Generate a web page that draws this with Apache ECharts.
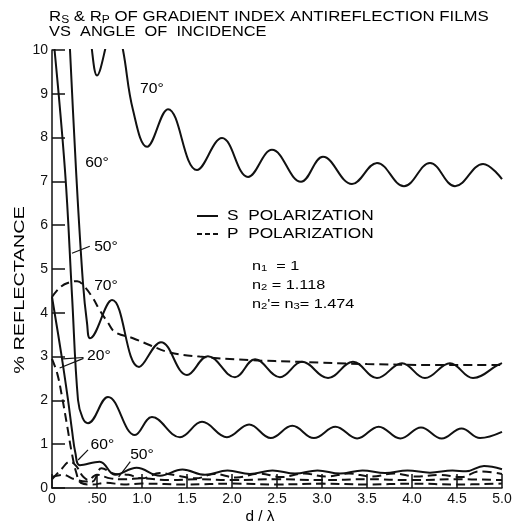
<!DOCTYPE html>
<html>
<head>
<meta charset="utf-8">
<script src="https://cdn.jsdelivr.net/npm/echarts@6/dist/echarts.min.js"></script>
<style>
  html, body { margin: 0; padding: 0; background: #fff; }
  #chart { width: 516px; height: 526px; }
</style>
</head>
<body>
<div id="chart"></div>
<script>
// Tick labels
const xTickLabels = ['0', '.50', '1.0', '1.5', '2.0', '2.5', '3.0', '3.5', '4.0', '4.5', '5.0'];
const yTickLabels = ['0', '1', '2', '3', '4', '5', '6', '7', '8', '9', '10'];

// Reflectance (%) vs film thickness d/λ, S polarization
const s20 = [[0, 4.36], [0.1, 3.1], [0.178, 2.01], [0.222, 1.32], [0.26, 0.8], [0.31, 0.52], [0.53, 0.6],
  [0.7, 0.3], [0.94, 0.46], [1.2, 0.28], [1.45, 0.42], [1.7, 0.3], [1.95, 0.4], [2.2, 0.32], [2.45, 0.4],
  [2.7, 0.33], [2.95, 0.4], [3.2, 0.33], [3.45, 0.4], [3.7, 0.34], [3.95, 0.4], [4.2, 0.35], [4.45, 0.4],
  [4.6, 0.38], [4.8, 0.5], [5.0, 0.43]];
const s50 = [[0, 10.6], [0.144, 7.26], [0.222, 4.41], [0.289, 2.01], [0.34, 1.6], [0.4, 1.48], [0.622, 2.08],
  [0.922, 1.21], [1.111, 1.62], [1.422, 1.16], [1.667, 1.51], [1.944, 1.16], [2.19, 1.45], [2.43, 1.14],
  [2.67, 1.42], [2.91, 1.14], [3.15, 1.40], [3.39, 1.13], [3.63, 1.40], [3.87, 1.13], [4.1, 1.38],
  [4.33, 1.13], [4.55, 1.36], [4.756, 1.14], [5.0, 1.28]];
const s60 = [[0.1, 14.0], [0.2, 10.0], [0.267, 7.26], [0.344, 4.68], [0.39, 3.75], [0.422, 3.42], [0.667, 4.29],
  [0.967, 2.76], [1.211, 3.33], [1.5, 2.58], [1.733, 3.01], [2.033, 2.53], [2.256, 2.94], [2.533, 2.53],
  [2.778, 2.88], [3.067, 2.51], [3.344, 2.88], [3.611, 2.51], [3.889, 2.85], [4.144, 2.51], [4.422, 2.85],
  [4.678, 2.51], [4.956, 2.81], [5.0, 2.85]];
const s70 = [[0.35, 12.0], [0.444, 10.0], [0.5, 9.42], [0.589, 10.0], [0.68, 11.0], [0.789, 10.0], [0.9, 8.63],
  [1.056, 7.79], [1.289, 8.65], [1.611, 7.26], [1.889, 7.99], [2.178, 7.1], [2.444, 7.72], [2.767, 6.99],
  [3.011, 7.56], [3.333, 6.94], [3.611, 7.42], [3.911, 6.89], [4.2, 7.42], [4.478, 6.89], [4.789, 7.40],
  [5.0, 7.05]];

// Reflectance (%) vs film thickness d/λ, P polarization
const p20 = [[0, 2.95], [0.06, 2.6], [0.11, 2.1], [0.17, 1.4], [0.22, 0.8], [0.27, 0.35], [0.32, 0.12],
  [0.45, 0.08], [0.6, 0.12], [0.8, 0.08], [1.0, 0.1], [1.5, 0.08], [2.0, 0.1], [2.5, 0.08], [3.0, 0.1],
  [3.5, 0.08], [4.0, 0.1], [4.5, 0.08], [5.0, 0.1]];
const p50 = [[0, 0.25], [0.12, 0.3], [0.25, 0.2], [0.38, 0.15], [0.5, 0.3], [0.65, 0.22], [0.8, 0.2],
  [1.0, 0.22], [1.3, 0.18], [1.6, 0.2], [2.0, 0.18], [2.5, 0.2], [3.0, 0.18], [3.5, 0.2], [4.0, 0.18],
  [4.5, 0.2], [5.0, 0.18]];
const p60 = [[0, 0.2], [0.1, 0.42], [0.2, 0.6], [0.27, 0.5], [0.35, 0.25], [0.45, 0.15], [0.55, 0.45],
  [0.7, 0.32], [0.85, 0.3], [1.0, 0.22], [1.2, 0.34], [1.4, 0.28], [1.6, 0.22], [1.8, 0.32], [2.05, 0.24],
  [2.3, 0.33], [2.55, 0.25], [2.8, 0.33], [3.05, 0.26], [3.3, 0.33], [3.55, 0.26], [3.8, 0.33],
  [4.05, 0.26], [4.3, 0.3], [4.55, 0.25], [4.75, 0.38], [5.0, 0.32]];
const p70 = [[0, 4.36], [0.1, 4.6], [0.2, 4.7], [0.28, 4.72], [0.36, 4.6], [0.45, 4.35], [0.53, 4.06],
  [0.62, 3.78], [0.7, 3.56], [0.9, 3.42], [1.09, 3.26], [1.3, 3.1], [1.64, 3.0], [2.2, 2.92], [2.76, 2.88],
  [3.5, 2.83], [4.23, 2.81], [5.0, 2.81]];

// Angle-of-incidence callouts (data coordinates) and their leader lines
const angleLabels = [
  { text: '70°', at: [1.11, 9.11] },
  { text: '60°', at: [0.5, 7.42] },
  { text: '50°', at: [0.6, 5.5] },
  { text: '70°', at: [0.6, 4.6] },
  { text: '20°', at: [0.52, 3.0] },
  { text: '60°', at: [0.56, 0.98] },
  { text: '50°', at: [1.0, 0.75] }
];
const leaders = [
  [[0.222, 5.36], [0.42, 5.52]],
  [[0.35, 2.98], [0.12, 2.95]],
  [[0.35, 2.96], [0.085, 2.74]],
  [[0.4, 0.87], [0.29, 0.64]],
  [[0.87, 0.6], [0.74, 0.25]]
];

const FONT = 'Liberation Sans';
const INK = '#111';

const chart = echarts.init(document.getElementById('chart'), null, { renderer: 'canvas' });

function curve(name, data, dashed) {
  return {
    name: name,
    type: 'line',
    data: data,
    smooth: 0.4,
    showSymbol: false,
    clip: true,
    silent: true,
    lineStyle: { color: INK, width: 2, type: dashed ? [9, 5] : 'solid' }
  };
}

chart.setOption({
  animation: false,
  backgroundColor: '#fff',
  grid: { left: 52, right: 14, top: 50, bottom: 38, containLabel: false },
  xAxis: {
    type: 'value', min: 0, max: 5, interval: 0.5,
    axisLine: { show: true, lineStyle: { color: INK, width: 1.5 } },
    axisTick: { show: true, inside: true, length: 14, lineStyle: { color: INK, width: 1.5 } },
    axisLabel: {
      margin: 4, fontFamily: FONT, fontSize: 14, color: INK,
      formatter: v => xTickLabels[Math.round(v / 0.5)]
    },
    splitLine: { show: false }
  },
  yAxis: {
    type: 'value', min: 0, max: 10, interval: 1,
    axisLine: { show: true, lineStyle: { color: INK, width: 1.5 } },
    axisTick: { show: true, inside: true, length: 13, lineStyle: { color: INK, width: 1.5 } },
    axisLabel: {
      margin: 4, fontFamily: FONT, fontSize: 14, color: INK,
      formatter: v => yTickLabels[Math.round(v)]
    },
    splitLine: { show: false }
  },
  series: [
    curve('S 20°', s20, false), curve('S 50°', s50, false),
    curve('S 60°', s60, false), curve('S 70°', s70, false),
    curve('P 20°', p20, true), curve('P 50°', p50, true),
    curve('P 60°', p60, true), curve('P 70°', p70, true)
  ]
});

// Title, axis names, legend key, refractive indices and angle callouts
const base = { fontFamily: FONT, fontSize: 14, color: INK };
const sub = { fontFamily: FONT, fontSize: 10, color: INK, padding: [6, 0, 0, 0] };
const small = { fontFamily: FONT, fontSize: 13, color: INK };
const sub2 = { fontFamily: FONT, fontSize: 9, color: INK, padding: [6, 0, 0, 0] };

const toPx = p => chart.convertToPixel({ gridIndex: 0 }, p);

function label(x, y, style, sx, extra) {
  return Object.assign({ type: 'text', x: x, y: y, scaleX: sx || 1,
    style: Object.assign({ align: 'left', verticalAlign: 'middle' }, style) }, extra || {});
}

const graphics = [
  label(49, 17, { text: '{a|R}{s|S}{a| & R}{s|P}{a| OF GRADIENT INDEX ANTIREFLECTION FILMS}',
    rich: { a: base, s: sub } }, 1.2),
  label(49, 32, Object.assign({ text: 'VS  ANGLE  OF  INCIDENCE' }, base), 1.17),
  label(20, 290, Object.assign({ text: '% REFLECTANCE', align: 'center' }, base), 1.42,
    { rotation: Math.PI / 2 }),
  label(260, 517, Object.assign({ text: 'd / λ', align: 'center' }, base), 1.1),
  { type: 'line', shape: { x1: 197, y1: 216, x2: 218, y2: 216 }, style: { stroke: INK, lineWidth: 2 } },
  { type: 'line', shape: { x1: 197, y1: 234, x2: 219, y2: 234 }, style: { stroke: INK, lineWidth: 2, lineDash: [5, 3] } },
  label(227, 216, Object.assign({ text: 'S  POLARIZATION' }, base), 1.235),
  label(227, 234, Object.assign({ text: 'P  POLARIZATION' }, base), 1.235),
  label(252, 266, { text: '{a|n}{s|1}{a|  = 1}', rich: { a: small, s: sub2 } }, 1.25),
  label(252, 285, { text: '{a|n}{s|2}{a| = 1.118}', rich: { a: small, s: sub2 } }, 1.25),
  label(252, 304, { text: "{a|n}{s|2}{a|'= n}{s|3}{a|= 1.474}", rich: { a: small, s: sub2 } }, 1.25)
];

angleLabels.forEach(l => {
  const p = toPx(l.at);
  graphics.push(label(p[0], p[1], Object.assign({ text: l.text, align: 'center' }, base), 1.12));
});
leaders.forEach(seg => {
  const a = toPx(seg[0]), b = toPx(seg[1]);
  graphics.push({ type: 'line', shape: { x1: a[0], y1: a[1], x2: b[0], y2: b[1] },
    style: { stroke: INK, lineWidth: 1.2 } });
});

chart.setOption({ graphic: graphics });
</script>
</body>
</html>
